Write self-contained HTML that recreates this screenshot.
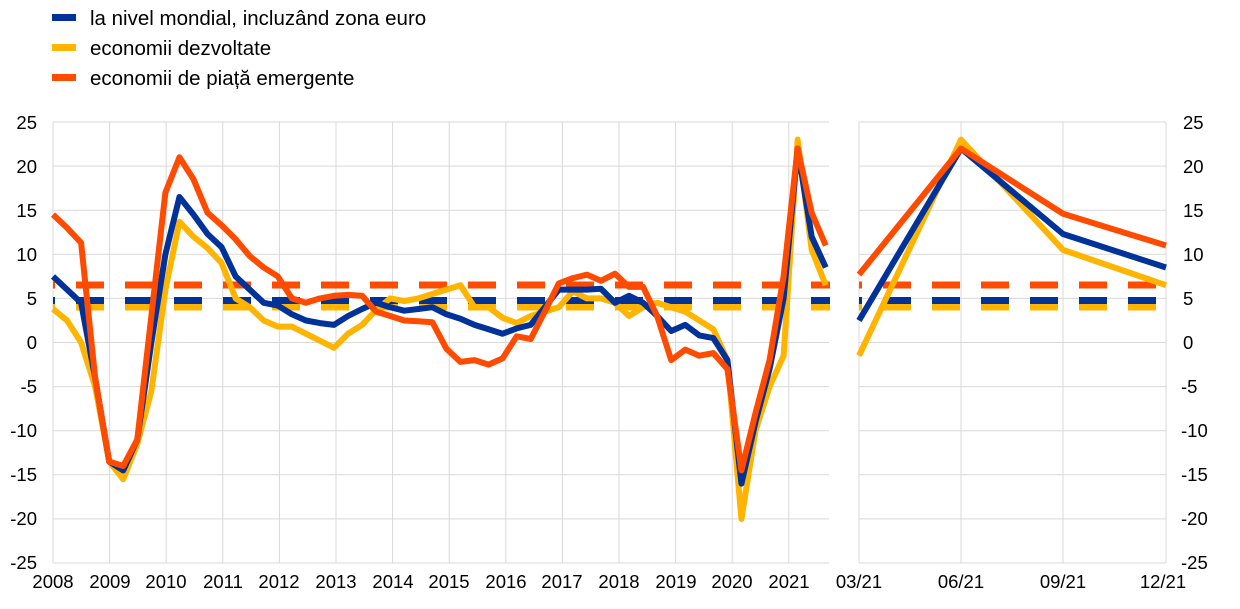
<!DOCTYPE html>
<html><head><meta charset="utf-8"><style>
body{margin:0;background:#fff;}
svg{display:block;font-family:"Liberation Sans",Arial,sans-serif;}
</style></head><body>
<svg width="1240" height="609" viewBox="0 0 1240 609" xmlns="http://www.w3.org/2000/svg">
<defs>
<clipPath id="cl"><rect x="53" y="100" width="777" height="470"/></clipPath>
<clipPath id="cr"><rect x="859" y="100" width="308" height="470"/></clipPath>
</defs>
<rect x="52" y="14" width="24" height="7" fill="#003299"/>
<rect x="52" y="44" width="24" height="7" fill="#ffb400"/>
<rect x="52" y="74" width="24" height="7" fill="#ff4b00"/>
<g font-size="20.5" fill="#000">
<text x="90" y="25">la nivel mondial, incluzând zona euro</text>
<text x="90" y="55">economii dezvoltate</text>
<text x="90" y="85">economii de piață emergente</text>
</g>
<g stroke="#d9d9d9" stroke-width="1">
<line x1="53" x2="829" y1="122" y2="122"/><line x1="53" x2="829" y1="166.1" y2="166.1"/>
<line x1="53" x2="829" y1="210.2" y2="210.2"/><line x1="53" x2="829" y1="254.3" y2="254.3"/>
<line x1="53" x2="829" y1="298.4" y2="298.4"/><line x1="53" x2="829" y1="342.5" y2="342.5"/>
<line x1="53" x2="829" y1="386.6" y2="386.6"/><line x1="53" x2="829" y1="430.7" y2="430.7"/>
<line x1="53" x2="829" y1="474.8" y2="474.8"/><line x1="53" x2="829" y1="518.9" y2="518.9"/>
<line x1="53" x2="829" y1="563" y2="563"/>
<line x1="859" x2="1166" y1="122" y2="122"/><line x1="859" x2="1166" y1="166.1" y2="166.1"/>
<line x1="859" x2="1166" y1="210.2" y2="210.2"/><line x1="859" x2="1166" y1="254.3" y2="254.3"/>
<line x1="859" x2="1166" y1="298.4" y2="298.4"/><line x1="859" x2="1166" y1="342.5" y2="342.5"/>
<line x1="859" x2="1166" y1="386.6" y2="386.6"/><line x1="859" x2="1166" y1="430.7" y2="430.7"/>
<line x1="859" x2="1166" y1="474.8" y2="474.8"/><line x1="859" x2="1166" y1="518.9" y2="518.9"/>
<line x1="859" x2="1166" y1="563" y2="563"/>
<line x1="53" x2="53" y1="122" y2="563"/><line x1="109.6" x2="109.6" y1="122" y2="563"/>
<line x1="166.2" x2="166.2" y1="122" y2="563"/><line x1="222.8" x2="222.8" y1="122" y2="563"/>
<line x1="279.4" x2="279.4" y1="122" y2="563"/><line x1="336" x2="336" y1="122" y2="563"/>
<line x1="392.6" x2="392.6" y1="122" y2="563"/><line x1="449.2" x2="449.2" y1="122" y2="563"/>
<line x1="505.8" x2="505.8" y1="122" y2="563"/><line x1="562.4" x2="562.4" y1="122" y2="563"/>
<line x1="619" x2="619" y1="122" y2="563"/><line x1="675.6" x2="675.6" y1="122" y2="563"/>
<line x1="732.2" x2="732.2" y1="122" y2="563"/><line x1="788.8" x2="788.8" y1="122" y2="563"/>
<line x1="859" x2="859" y1="122" y2="563"/><line x1="961" x2="961" y1="122" y2="563"/>
<line x1="1063" x2="1063" y1="122" y2="563"/><line x1="1166" x2="1166" y1="122" y2="563"/>
</g>
<g font-size="18.5" fill="#000">
<g text-anchor="end">
<text x="37" y="129">25</text><text x="37" y="173">20</text><text x="37" y="217">15</text>
<text x="37" y="261">10</text><text x="37" y="305">5</text><text x="37" y="349">0</text>
<text x="37" y="393">-5</text><text x="37" y="437">-10</text><text x="37" y="481">-15</text>
<text x="37" y="525">-20</text><text x="37" y="569">-25</text>
</g>
<g text-anchor="start">
<text x="1183" y="129">25</text><text x="1183" y="173">20</text><text x="1183" y="217">15</text>
<text x="1183" y="261">10</text><text x="1183" y="305">5</text><text x="1183" y="349">0</text>
<text x="1181" y="393">-5</text><text x="1181" y="437">-10</text><text x="1181" y="481">-15</text>
<text x="1181" y="525">-20</text><text x="1181" y="569">-25</text>
</g>
<g text-anchor="middle">
<text x="53" y="588">2008</text><text x="110" y="588">2009</text><text x="166" y="588">2010</text>
<text x="223" y="588">2011</text><text x="279" y="588">2012</text><text x="336" y="588">2013</text>
<text x="393" y="588">2014</text><text x="449" y="588">2015</text><text x="506" y="588">2016</text>
<text x="562" y="588">2017</text><text x="619" y="588">2018</text><text x="676" y="588">2019</text>
<text x="732" y="588">2020</text><text x="789" y="588">2021</text>
<text x="859" y="588">03/21</text><text x="961" y="588">06/21</text>
<text x="1063" y="588">09/21</text><text x="1163" y="588">12/21</text>
</g>
</g>
<g stroke-width="7" stroke-dasharray="28 21" fill="none">
<g clip-path="url(#cl)">
<line x1="27" x2="830" y1="285" y2="285" stroke="#ff4b00"/>
<line x1="27" x2="830" y1="307" y2="307" stroke="#ffb400"/>
<line x1="27" x2="830" y1="300.5" y2="300.5" stroke="#003299"/>
</g>
<g clip-path="url(#cr)">
<line x1="834" x2="1167" y1="285" y2="285" stroke="#ff4b00"/>
<line x1="834" x2="1167" y1="307" y2="307" stroke="#ffb400"/>
<line x1="834" x2="1167" y1="300.5" y2="300.5" stroke="#003299"/>
</g>
</g>
<g fill="none" stroke-width="6" stroke-linejoin="round">
<polyline stroke="#ffb400" points="53,309 67.05,320.5 81.1,342.5 95.15,386.6 109.2,461.6 123.25,479.2 137.3,443.9 151.35,391 165.4,289.6 179.45,221.7 193.5,236.7 207.55,248.1 221.6,263.1 235.65,298.4 249.7,307.2 263.75,320.5 277.8,326.6 291.85,326.6 305.9,333.7 319.95,340.7 334,347.8 348.05,333.7 362.1,324.9 376.15,309.9 390.2,298.4 404.25,301 418.3,298.4 432.35,294 446.4,289.6 460.45,285.2 474.5,307.2 488.55,307.2 502.6,317.8 516.65,323.1 530.7,316 544.75,311.6 558.8,307.2 572.85,291.3 586.9,298.4 600.95,298.4 615,302.8 629.05,316 643.1,307.2 657.15,302.8 671.2,307.2 685.25,311.6 699.3,320.5 713.35,329.3 727.4,360.1 741.45,518.9 755.5,430.7 769.55,386.6 783.6,355.7 797.65,139.6 811.7,249.9 825.75,285.2"/>
<polyline stroke="#003299" points="53,276.4 67.05,289.6 81.1,302.8 95.15,377.8 109.2,461.6 123.25,470.4 137.3,439.5 151.35,342.5 165.4,254.3 179.45,197 193.5,214.6 207.55,234 221.6,247.2 235.65,276.4 249.7,289.6 263.75,302.8 277.8,305.5 291.85,314.3 305.9,320.5 319.95,323.1 334,324.9 348.05,316 362.1,309 376.15,302.8 390.2,307.2 404.25,310.7 418.3,309 432.35,307.2 446.4,314.3 460.45,318.7 474.5,324.9 488.55,329.3 502.6,333.7 516.65,328.4 530.7,324.9 544.75,307.2 558.8,289.6 572.85,289.6 586.9,289.6 600.95,288.7 615,302.8 629.05,295.8 643.1,302.8 657.15,316 671.2,331 685.25,324.9 699.3,335.4 713.35,338.1 727.4,360.1 741.45,483.6 755.5,421.9 769.55,369 783.6,298.4 797.65,148.5 811.7,236.7 825.75,267.5"/>
<polyline stroke="#ff4b00" points="53,214.6 67.05,227.8 81.1,242.8 95.15,377.8 109.2,461.6 123.25,466 137.3,439.5 151.35,316 165.4,192.6 179.45,157.3 193.5,179.3 207.55,212.8 221.6,225.2 235.65,239.3 249.7,256.1 263.75,267.5 277.8,276.4 291.85,298.4 305.9,302.8 319.95,298.4 334,295.8 348.05,294.9 362.1,295.8 376.15,311.6 390.2,316 404.25,320.5 418.3,321.3 432.35,322.2 446.4,348.7 460.45,361.9 474.5,360.1 488.55,364.6 502.6,358.4 516.65,336.3 530.7,339 544.75,311.6 558.8,283.4 572.85,278.1 586.9,274.6 600.95,280.8 615,273.7 629.05,286.9 643.1,286.9 657.15,316 671.2,360.1 685.25,349.6 699.3,355.7 713.35,353.1 727.4,369 741.45,470.4 755.5,413.1 769.55,360.1 783.6,276.4 797.65,148.5 811.7,212.8 825.75,245.5"/>
<polyline stroke="#ffb400" points="859,355.7 961,139.6 1063,249.9 1166,285.2"/>
<polyline stroke="#003299" points="859,320.5 961,148.5 1063,234 1166,267.5"/>
<polyline stroke="#ff4b00" points="859,274.6 961,148.5 1063,213.7 1166,245.5"/>
</g>
</svg>
</body></html>
